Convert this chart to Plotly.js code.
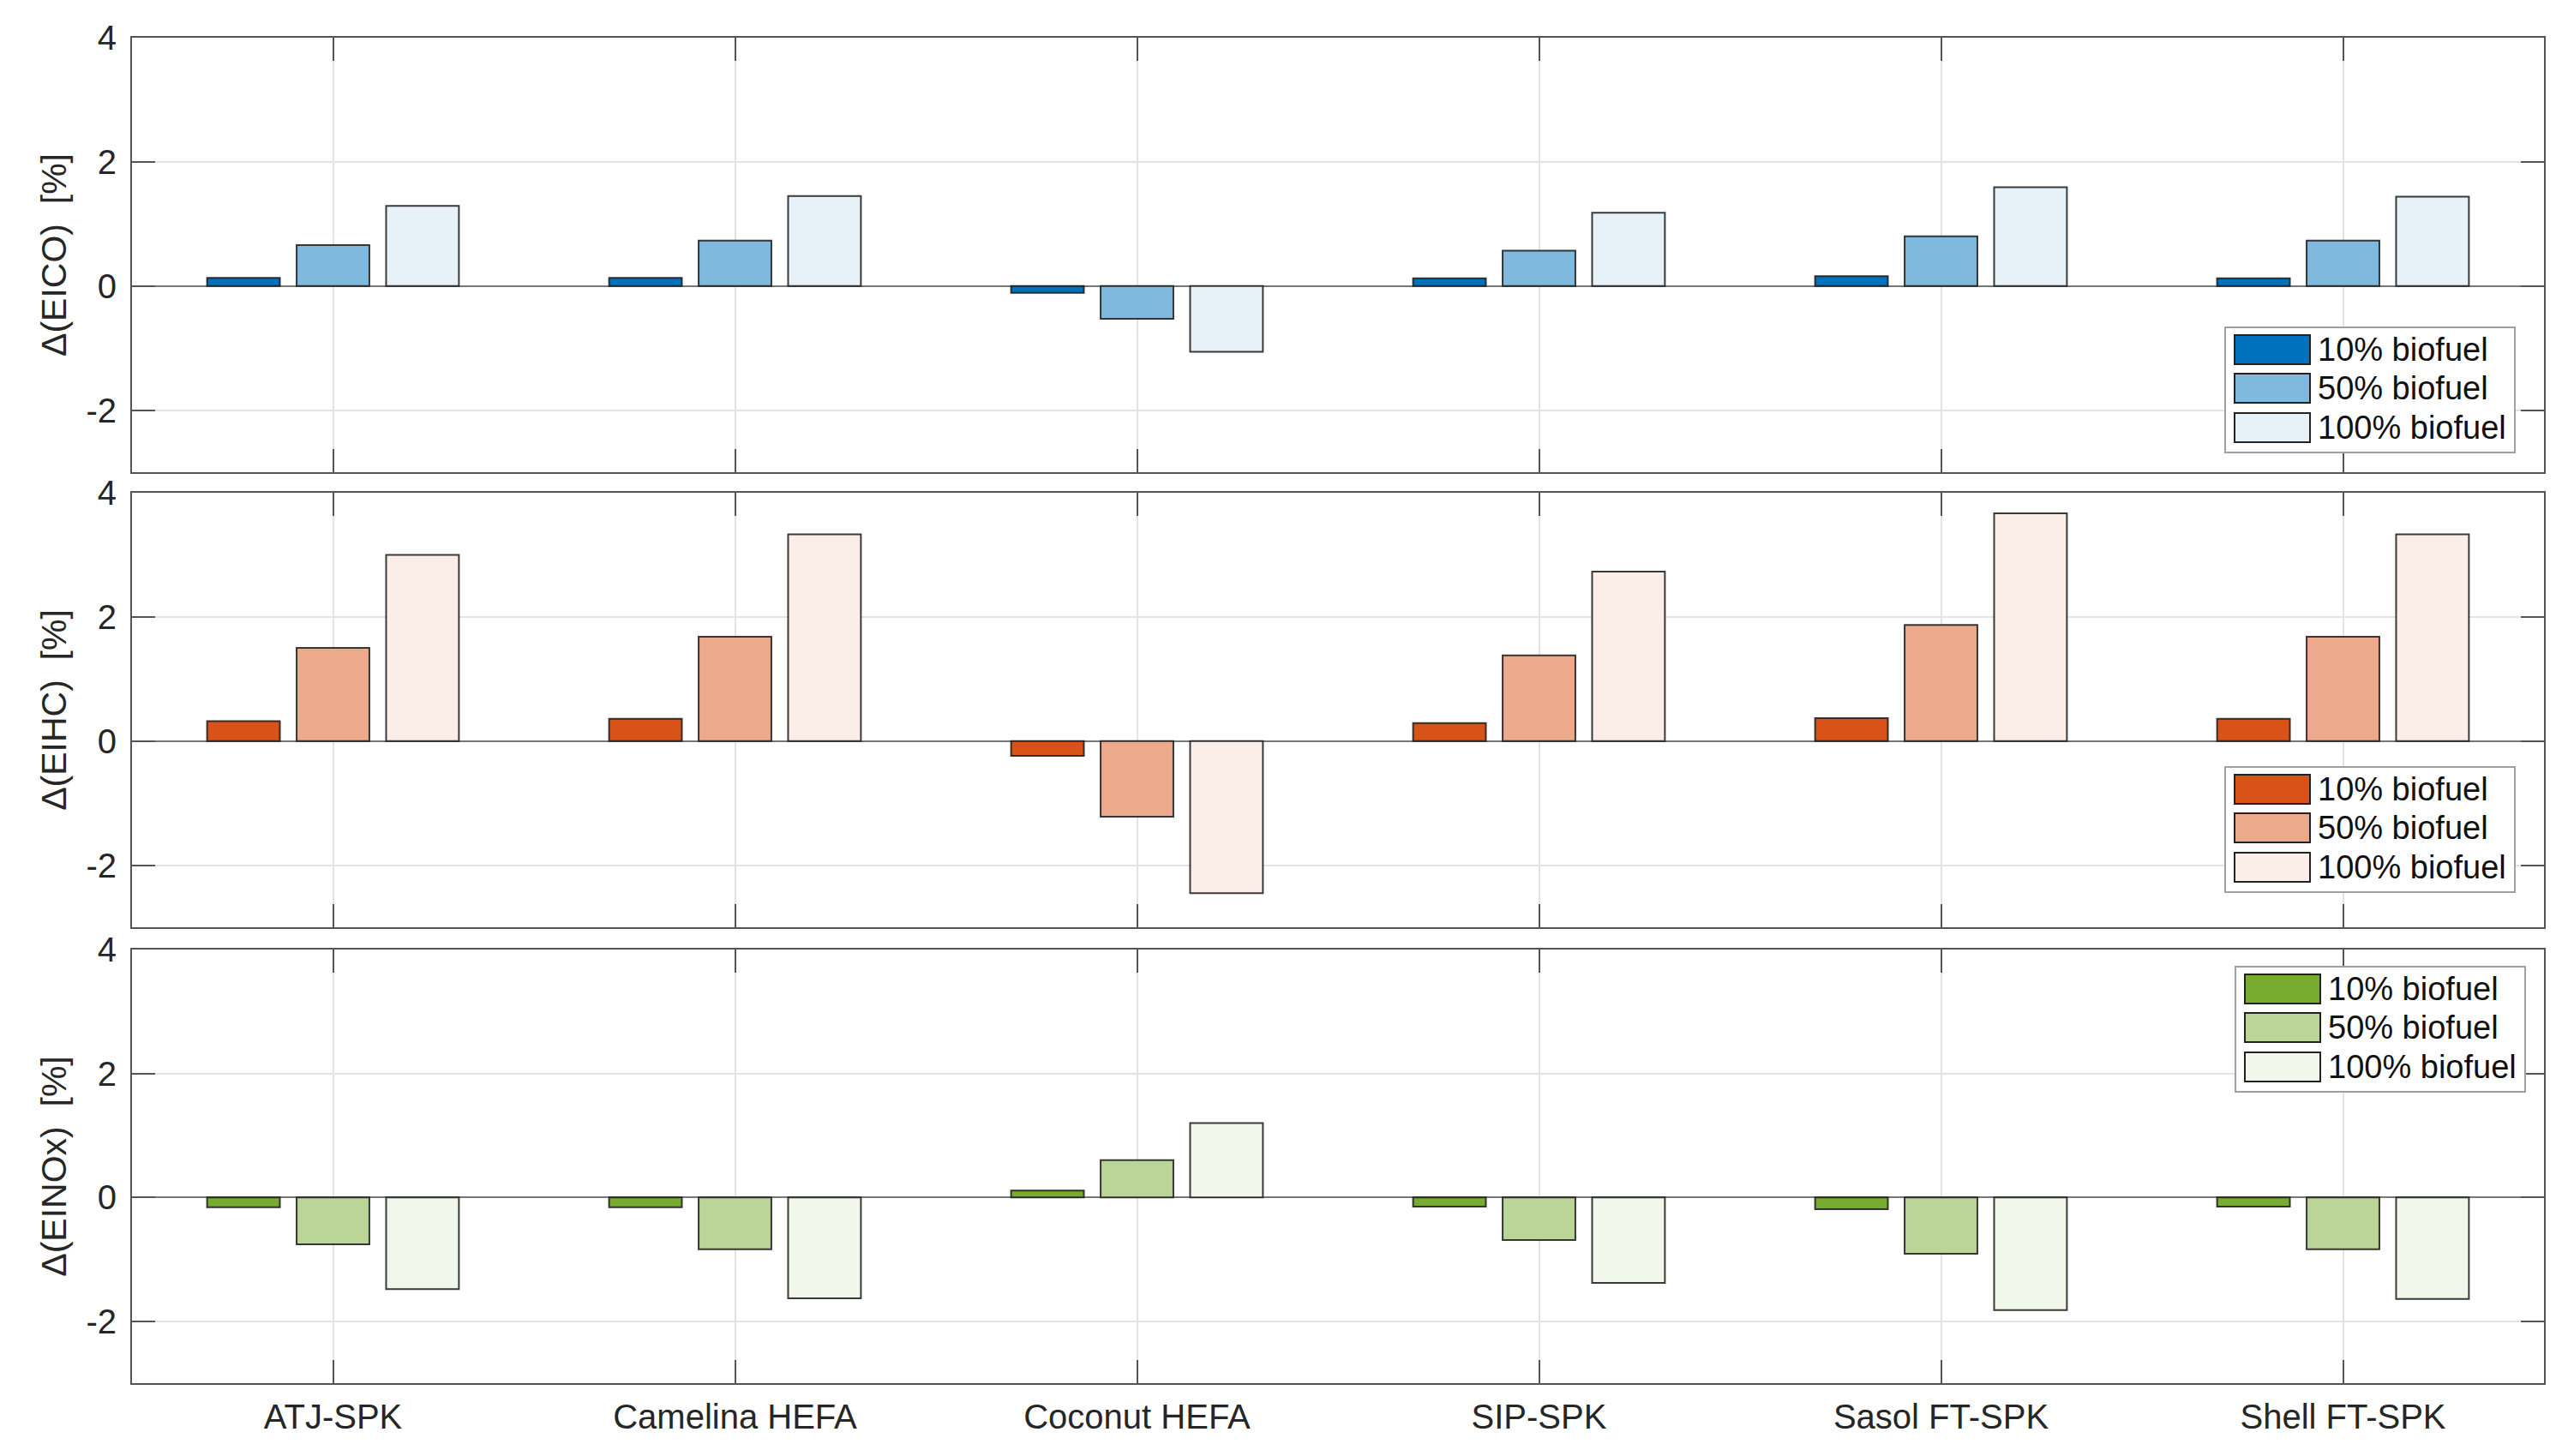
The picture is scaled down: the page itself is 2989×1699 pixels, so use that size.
<!DOCTYPE html>
<html>
<head>
<meta charset="utf-8">
<script src="https://cdn.plot.ly/plotly-3.0.1.min.js"></script>
<style>
  html, body { margin: 0; padding: 0; background: #fff; }
  #chart { width: 2989px; height: 1699px; }
</style>
</head>
<body>
<div id="chart"></div>
<script>
// fuels on the x axis, blend levels as the three bars of each group
const categories = ['ATJ-SPK', 'Camelina HEFA', 'Coconut HEFA', 'SIP-SPK', 'Sasol FT-SPK', 'Shell FT-SPK'];
const blendNames = ['10% biofuel', '50% biofuel', '100% biofuel'];
const yTickVals = [-2, 0, 2, 4];
const yTickText = ['-2', '0', '2', '4'];

// Δ(EICO) [%]
const eico10 = [0.13, 0.13, -0.11, 0.125, 0.16, 0.125];
const eico50 = [0.66, 0.73, -0.53, 0.57, 0.80, 0.73];
const eico100 = [1.29, 1.45, -1.06, 1.18, 1.59, 1.44];
// Δ(EIHC) [%]
const eihc10 = [0.32, 0.36, -0.24, 0.29, 0.37, 0.36];
const eihc50 = [1.50, 1.68, -1.22, 1.38, 1.87, 1.68];
const eihc100 = [3.00, 3.33, -2.45, 2.73, 3.67, 3.33];
// Δ(EINOx) [%]
const einox10 = [-0.16, -0.16, 0.11, -0.15, -0.19, -0.15];
const einox50 = [-0.76, -0.84, 0.60, -0.69, -0.91, -0.84];
const einox100 = [-1.48, -1.63, 1.20, -1.38, -1.82, -1.64];

const panels = [
  {title: 'Δ(EICO)  [%]', series: [eico10, eico50, eico100], colors: ['#0072BD', '#80B9DE', '#E6F1F8']},
  {title: 'Δ(EIHC)  [%]', series: [eihc10, eihc50, eihc100], colors: ['#D95319', '#ECA98C', '#FBEEE8']},
  {title: 'Δ(EINOx)  [%]', series: [einox10, einox50, einox100], colors: ['#77AC30', '#BBD598', '#F1F7EA']}
];

// page geometry (px)
const W = 2989, H = 1699;
const M = {l: 154, r: 21, t: 44, b: 85};
const plotW = W - M.l - M.r, plotH = H - M.t - M.b;
const px2x = p => (p - M.l) / plotW;
const px2y = p => (H - M.b - p) / plotH;
const domains = [[px2y(551), 1], [px2y(1082), px2y(575)], [0, px2y(1108)]];
const legendBoxes = [[2596, 382], [2596, 895], [2608, 1128]];

const font = 'Liberation Sans, Arial, Helvetica, sans-serif';
const ink = '#262626';
const axisColor = '#555';
const gridColor = '#e3e3e3';

const traces = [];
const layout = {
  width: W, height: H,
  margin: M,
  paper_bgcolor: '#fff', plot_bgcolor: '#fff',
  font: {family: font, color: ink, size: 40},
  barmode: 'group', bargap: 0.332, bargroupgap: 0.187,
  showlegend: false,
  shapes: [], annotations: []
};

panels.forEach((p, i) => {
  const n = i === 0 ? '' : String(i + 1);
  p.series.forEach((vals, k) => {
    traces.push({
      type: 'bar', name: blendNames[k], x: categories, y: vals,
      xaxis: 'x' + n, yaxis: 'y' + n,
      marker: {color: p.colors[k], line: {color: 'rgba(25,25,25,0.85)', width: 2}},
      hovertemplate: '%{x}: %{y}%<extra>' + blendNames[k] + '</extra>'
    });
  });

  layout['xaxis' + n] = {
    type: 'category', anchor: 'y' + n, domain: [0, 1], range: [-0.5, categories.length - 0.5],
    showgrid: true, gridcolor: gridColor, gridwidth: 2,
    showline: true, linecolor: axisColor, linewidth: 2, mirror: 'ticks',
    ticks: 'inside', ticklen: 27, tickwidth: 2, tickcolor: axisColor,
    showticklabels: i === panels.length - 1, ticklabelstandoff: 3,
    tickfont: {family: font, size: 40, color: ink}
  };
  layout['yaxis' + n] = {
    anchor: 'x' + n, domain: domains[i], range: [-3, 4],
    tickvals: yTickVals, ticktext: yTickText,
    showgrid: true, gridcolor: gridColor, gridwidth: 2,
    zeroline: true, zerolinecolor: '#777', zerolinewidth: 2,
    showline: true, linecolor: axisColor, linewidth: 2, mirror: 'ticks',
    ticks: 'inside', ticklen: 27, tickwidth: 2, tickcolor: axisColor,
    ticklabelstandoff: 8,
    tickfont: {family: font, size: 40, color: ink},
    title: {text: p.title, font: {family: font, size: 41, color: ink}, standoff: 10}
  };

  // legend box drawn in the top-right / lower-right of each panel
  const [bx, by] = legendBoxes[i];
  layout.shapes.push({type: 'rect', xref: 'paper', yref: 'paper', layer: 'above',
    x0: px2x(bx), x1: px2x(bx + 338), y0: px2y(by + 146), y1: px2y(by),
    fillcolor: '#fff', line: {color: '#a0a0a0', width: 2}});
  [26, 71, 117].forEach((dy, k) => {
    const cy = by + dy;
    layout.shapes.push({type: 'rect', xref: 'paper', yref: 'paper', layer: 'above',
      x0: px2x(bx + 11), x1: px2x(bx + 99), y0: px2y(cy + 17), y1: px2y(cy - 17),
      fillcolor: p.colors[k], line: {color: '#222', width: 2}});
    layout.annotations.push({xref: 'paper', yref: 'paper', x: px2x(bx + 106), y: px2y(cy),
      xanchor: 'left', yanchor: 'middle', showarrow: false, text: blendNames[k],
      font: {family: font, size: 38, color: '#111'}});
  });
});

Plotly.newPlot('chart', traces, layout, {displayModeBar: false, staticPlot: true});
</script>
</body>
</html>
